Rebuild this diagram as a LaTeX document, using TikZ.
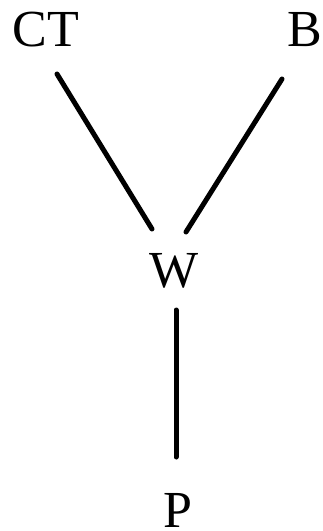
\documentclass[tikz,border=0pt]{standalone}
\usepackage{fontspec}
\setmainfont{Liberation Serif}
\begin{document}
\begin{tikzpicture}[x=1pt,y=-1pt,
  lbl/.style={inner sep=0pt,anchor=base,font=\fontsize{52}{52}\selectfont},
  edge/.style={line width=5pt,line cap=round}]
\useasboundingbox (0,0) rectangle (322,531);
\node[lbl] (ct) at (46,46) {CT};
\node[lbl] (b) at (305,46) {B};
\node[lbl] (w) at (174,287) {W};
\node[lbl] (p) at (178,527) {P};
\coordinate (ct-e) at (57,74);
\coordinate (w-l) at (152,229);
\coordinate (b-e) at (282,79);
\coordinate (w-r) at (186,232);
\coordinate (w-b) at (176,310);
\coordinate (p-t) at (176,457);
\draw[edge] (ct-e) -- (w-l);
\draw[edge] (b-e) -- (w-r);
\draw[edge] (w-b) -- (p-t);
\end{tikzpicture}
\end{document}
